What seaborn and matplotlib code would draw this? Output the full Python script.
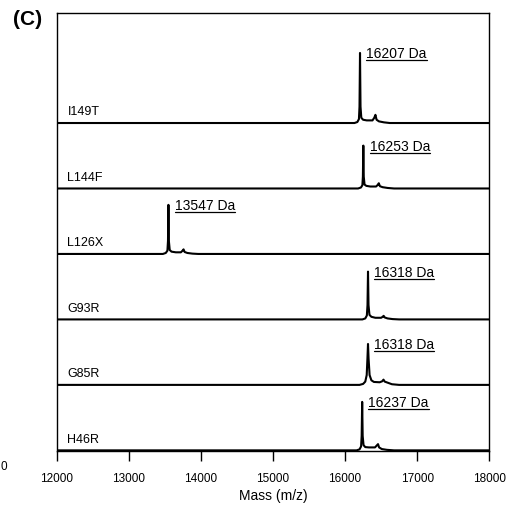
import numpy as np
import pandas as pd
import matplotlib
matplotlib.use("Agg")
import matplotlib.pyplot as plt
from matplotlib.lines import Line2D
import seaborn as sns

# Variants from top to bottom of the stack
variants = ["I149T", "L144F", "L126X", "G93R", "G85R", "H46R"]
peak_labels = ["16207 Da", "16253 Da", "13547 Da", "16318 Da", "16318 Da", "16237 Da"]
peak_mass = [16207, 16253, 13547, 16318, 16318, 16237]
peak_height = [1.07, 0.655, 0.75, 0.73, 0.625, 0.74]

# Deconvoluted spectra: (mass, relative intensity) points per variant
mass_I149T = [12000, 16130, 16170, 16192, 16200, 16207, 16214, 16225, 16250, 16300, 16380, 16405, 16421, 16437, 16470, 16540, 16620, 18000]
int_I149T = [0.0, 0.0, 0.015, 0.06, 0.25, 1.07, 0.25, 0.08, 0.05, 0.04, 0.04, 0.08, 0.125, 0.05, 0.025, 0.01, 0.0, 0.0]

mass_L144F = [12000, 16180, 16220, 16240, 16247, 16253, 16259, 16270, 16295, 16350, 16430, 16453, 16468, 16483, 16520, 16590, 16680, 18000]
int_L144F = [0.0, 0.0, 0.015, 0.05, 0.18, 0.655, 0.18, 0.06, 0.04, 0.03, 0.03, 0.055, 0.08, 0.035, 0.02, 0.008, 0.0, 0.0]

mass_L126X = [12000, 13470, 13510, 13533, 13541, 13547, 13553, 13565, 13590, 13650, 13720, 13743, 13757, 13772, 13810, 13880, 13960, 18000]
int_L126X = [0.0, 0.0, 0.015, 0.05, 0.2, 0.75, 0.2, 0.06, 0.035, 0.025, 0.025, 0.05, 0.07, 0.03, 0.015, 0.005, 0.0, 0.0]

mass_G93R = [12000, 16240, 16280, 16302, 16311, 16318, 16325, 16338, 16365, 16420, 16500, 16522, 16535, 16550, 16590, 16660, 16750, 18000]
int_G93R = [0.0, 0.0, 0.015, 0.06, 0.22, 0.73, 0.22, 0.07, 0.04, 0.025, 0.025, 0.04, 0.055, 0.03, 0.015, 0.005, 0.0, 0.0]

mass_G85R = [12000, 16200, 16250, 16280, 16300, 16310, 16318, 16326, 16340, 16365, 16400, 16480, 16515, 16533, 16550, 16600, 16650, 16750, 18000]
int_G85R = [0.0, 0.0, 0.015, 0.05, 0.15, 0.4, 0.625, 0.4, 0.15, 0.07, 0.045, 0.04, 0.055, 0.08, 0.05, 0.03, 0.01, 0.0, 0.0]

mass_H46R = [12000, 16160, 16200, 16222, 16230, 16237, 16244, 16256, 16280, 16330, 16415, 16440, 16457, 16472, 16510, 16580, 16680, 18000]
int_H46R = [0.0, 0.0, 0.015, 0.06, 0.22, 0.74, 0.22, 0.08, 0.05, 0.045, 0.045, 0.075, 0.095, 0.045, 0.02, 0.008, 0.0, 0.0]

spectra = {
    "I149T": (mass_I149T, int_I149T),
    "L144F": (mass_L144F, int_L144F),
    "L126X": (mass_L126X, int_L126X),
    "G93R": (mass_G93R, int_G93R),
    "G85R": (mass_G85R, int_G85R),
    "H46R": (mass_H46R, int_H46R),
}

xticks = [12000, 13000, 14000, 15000, 16000, 17000, 18000]

n = len(variants)
frames = []
for i, v in enumerate(variants):
    m, y = spectra[v]
    offset = n - 1 - i
    frames.append(pd.DataFrame({"mass": m, "signal": np.asarray(y) + offset, "variant": v}))
df = pd.concat(frames, ignore_index=True)

sns.set_style("white")
plt.rcParams["font.family"] = ["Liberation Sans", "DejaVu Sans"]
plt.rcParams["text.color"] = "black"
plt.rcParams["axes.labelcolor"] = "black"

fig = plt.figure(figsize=(5.09, 5.10), dpi=100)
ax = fig.add_axes([0.112, 0.1137, 0.849, 0.8588])

sns.lineplot(data=df, x="mass", y="signal", hue="variant", units="variant",
             estimator=None, palette=["black"] * n, linewidth=1.5,
             legend=False, ax=ax, sort=True)

peak_texts = []
for i, v in enumerate(variants):
    offset = n - 1 - i
    ax.annotate(v, xy=(12000, offset), xytext=(7.5, 8.5), textcoords="offset points",
                ha="left", va="center", fontsize=9)
    t = ax.annotate(peak_labels[i], xy=(peak_mass[i], offset + peak_height[i]),
                    xytext=(4.5, 0.0), textcoords="offset points",
                    ha="left", va="center", fontsize=10)
    peak_texts.append(t)

ax.set_xlim(12000, 18000)
ax.set_ylim(-0.01, 6.68)
ax.set_xticks(xticks)
ax.set_xticklabels([str(t) for t in xticks], fontsize=8.5)
ax.set_yticks([])
ax.set_xlabel("Mass (m/z)", fontsize=10, labelpad=3)
ax.set_ylabel("")
ax.tick_params(axis="x", direction="out", length=7, width=1, pad=8, bottom=True,
               colors="black", labelcolor="black")
for s in ax.spines.values():
    s.set_visible(True)
    s.set_color("black")
    s.set_linewidth(1.0)

fig.text(0.055, 0.962, "(C)", fontsize=15, fontweight="bold", ha="center", va="center")
fig.text(0.001, 0.085, "0", fontsize=8.5, ha="left", va="center")

# Underline the peak mass labels
fig.canvas.draw()
renderer = fig.canvas.get_renderer()
W, H = fig.bbox.width, fig.bbox.height
for t in peak_texts:
    bb = t.get_window_extent(renderer)
    yline = bb.y0 - 0.5
    fig.add_artist(Line2D([bb.x0 / W, bb.x1 / W], [yline / H, yline / H],
                          transform=fig.transFigure, color="black", linewidth=0.9))

fig.savefig("out.png", dpi=100)
